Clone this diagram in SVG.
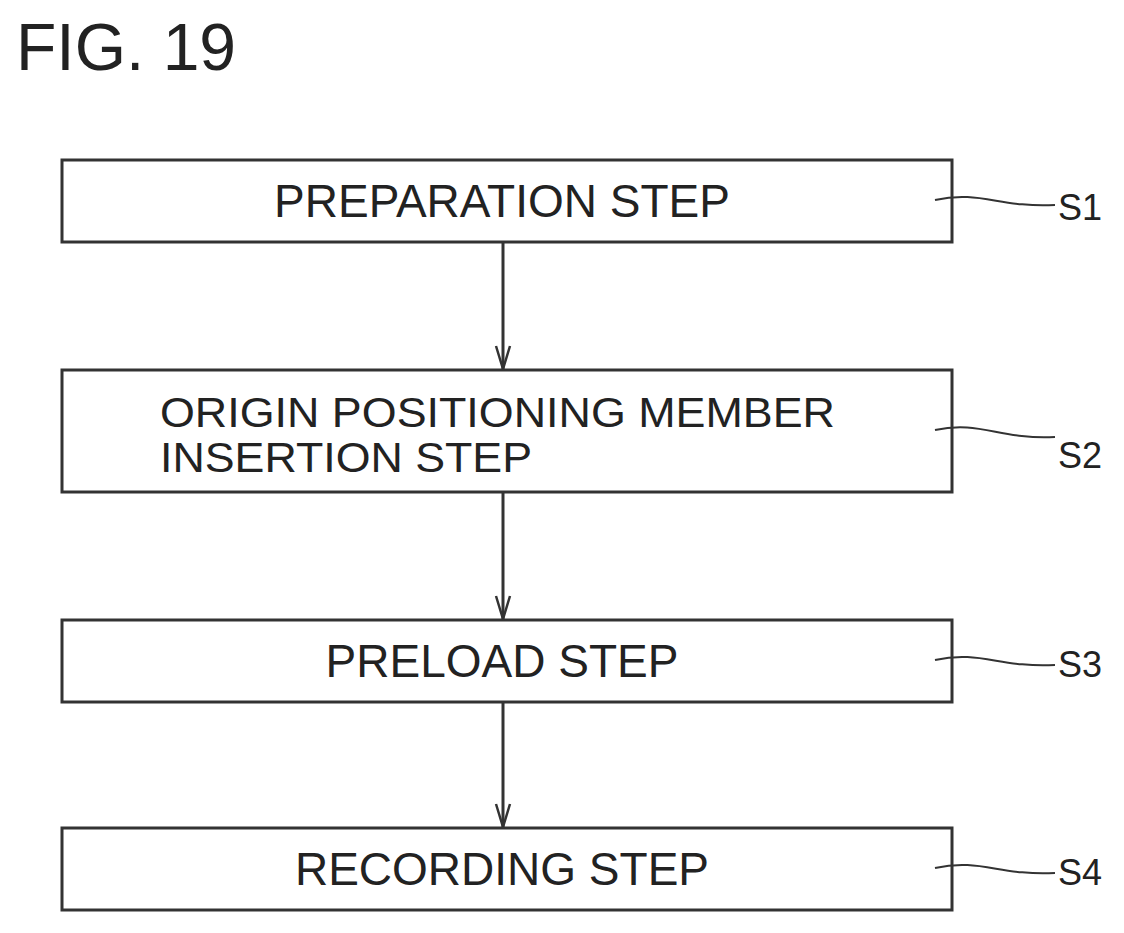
<svg xmlns="http://www.w3.org/2000/svg" width="1124" height="933" viewBox="0 0 1124 933">
<style>
.box{fill:#fff;stroke:#333;stroke-width:3}
.t{font-family:"Liberation Sans",Arial,sans-serif;font-size:46px;fill:#222}
.t2{font-family:"Liberation Sans",Arial,sans-serif;font-size:42px;fill:#222}
.lbl{font-family:"Liberation Sans",Arial,sans-serif;font-size:36px;fill:#222}
.ld{fill:none;stroke:#333;stroke-width:2}
.c{stroke:#333;stroke-width:3;fill:none}
.ah{fill:none;stroke:#333;stroke-width:2.5}
</style>
<rect width="1124" height="933" fill="#fff"/>
<text x="16" y="70" font-family="Liberation Sans,Arial,sans-serif" font-size="66" fill="#222">FIG. 19</text>
<g id="connectors">
<line class="c" x1="503" y1="243" x2="503" y2="369"/><path class="ah" d="M496,346 L503,369 L510,346"/>
<line class="c" x1="503" y1="493" x2="503" y2="619"/><path class="ah" d="M496,596 L503,619 L510,596"/>
<line class="c" x1="503" y1="703" x2="503" y2="827"/><path class="ah" d="M496,804 L503,827 L510,804"/>
</g>
<g id="s1"><rect class="box" x="62" y="160" width="890" height="82"/><text class="t" x="502" y="217" text-anchor="middle">PREPARATION STEP</text><path class="ld" d="M935,200 C980,190 1000,208 1055,205"/><text class="lbl" x="1058" y="220">S1</text></g>
<g id="s2"><rect class="box" x="62" y="370" width="890" height="122"/><text class="t2" x="160" y="427" textLength="675" lengthAdjust="spacingAndGlyphs">ORIGIN POSITIONING MEMBER</text><text class="t2" x="160" y="472" textLength="372" lengthAdjust="spacingAndGlyphs">INSERTION STEP</text><path class="ld" d="M935,430 C980,420 1000,440 1055,437"/><text class="lbl" x="1058" y="468">S2</text></g>
<g id="s3"><rect class="box" x="62" y="620" width="890" height="82"/><text class="t" x="502" y="677" text-anchor="middle">PRELOAD STEP</text><path class="ld" d="M935,660 C980,650 1000,668 1055,665"/><text class="lbl" x="1058" y="677">S3</text></g>
<g id="s4"><rect class="box" x="62" y="828" width="890" height="82"/><text class="t" x="502" y="885" text-anchor="middle">RECORDING STEP</text><path class="ld" d="M935,868 C980,858 1000,876 1055,873"/><text class="lbl" x="1058" y="885">S4</text></g>
</svg>
